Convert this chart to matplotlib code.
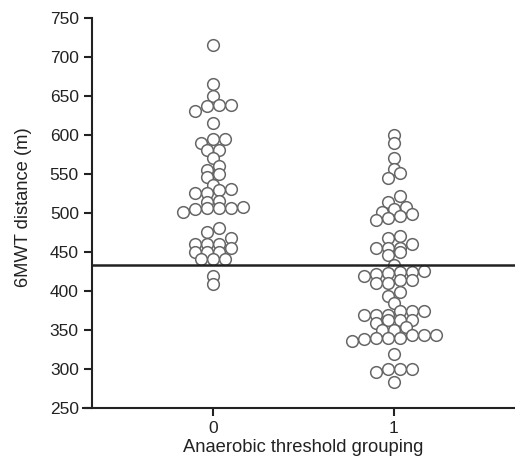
import numpy as np
import matplotlib
matplotlib.use("Agg")
import matplotlib.pyplot as plt

plt.rcParams['font.family'] = ['Liberation Sans', 'DejaVu Sans']

# ---- data ----
categories = [0, 1]
group0 = [716, 666, 650, 638, 638, 637, 631, 616, 595, 595, 590, 581, 581, 570,
          560, 555, 550, 546, 536, 531, 530, 526, 526, 516, 514, 508, 507, 507,
          507, 505, 501, 481, 476, 468, 460, 460, 460, 455, 450, 450, 450, 441,
          441, 441, 419, 409]
group1 = [600, 590, 570, 556, 551, 545, 522, 514, 508, 505, 501, 499, 496, 494,
          491, 470, 468, 460, 455, 455, 455, 450, 446, 433, 426, 424, 424, 423,
          422, 419, 414, 414, 410, 410, 399, 394, 385, 374, 374, 374, 369, 369,
          369, 363, 363, 363, 359, 354, 350, 350, 344, 344, 344, 340, 340, 340,
          338, 336, 319, 300, 300, 300, 296, 283]
threshold = 433
yticks = [250, 300, 350, 400, 450, 500, 550, 600, 650, 700, 750]
xlabel = "Anaerobic threshold grouping"
ylabel = "6MWT distance (m)"

W, H = 515, 461
fig = plt.figure(figsize=(W / 100, H / 100), dpi=100)
ax_l, ax_r, ax_t, ax_b = 83, 515, 18, 408
ax = fig.add_axes([ax_l / W, 1 - ax_b / H, (ax_r - ax_l) / W, (ax_b - ax_t) / H])

x_px0, x_px1 = 213, 394
px_per_x = x_px1 - x_px0
xmin = (ax_l - x_px0) / px_per_x
xmax = (ax_r - x_px0) / px_per_x
ax.set_xlim(xmin, xmax)
ax.set_ylim(250, 750)
yspine_x = (92 - x_px0) / px_per_x


def bin_offsets(vals, width=9.0, step=0.066):
    """Prism-like scatter: group nearby values (from the bottom up) in bins,
    spread each bin horizontally, lowest value on the left."""
    v = np.asarray(vals, dtype=float)
    order = np.argsort(v, kind='stable')
    offs = np.zeros(len(v))
    i = 0
    while i < len(order):
        start = v[order[i]]
        j = i
        while j < len(order) and v[order[j]] - start < width:
            j += 1
        idx = order[i:j]
        n = len(idx)
        for k, ii in enumerate(idx):
            offs[ii] = (k - (n - 1) / 2) * step
        i = j
    return offs


for cat, vals in zip(categories, [group0, group1]):
    offs = bin_offsets(vals)
    ax.plot(cat + offs, vals, linestyle='none', marker='o', markersize=8.4,
            markerfacecolor='white', markeredgecolor='#666666',
            markeredgewidth=1.1, zorder=3)

ax.plot([yspine_x, xmax], [threshold, threshold], color='#222222', lw=1.8,
        zorder=4, solid_capstyle='butt')

for s in ['top', 'right']:
    ax.spines[s].set_visible(False)
ax.spines['left'].set_position(('data', yspine_x))
ax.spines['left'].set_linewidth(1.5)
ax.spines['bottom'].set_linewidth(1.5)
ax.spines['left'].set_color('#222222')
ax.spines['bottom'].set_color('#222222')
ax.set_yticks(yticks)
ax.set_xticks(categories)
ax.set_xticklabels([str(c) for c in categories])
ax.tick_params(axis='both', length=6, width=1.5, color='#222222',
               labelsize=12.5, labelcolor='#222222', pad=3.5)
ax.patch.set_alpha(0)

fig.text(24 / W, 1 - 207 / H, ylabel, rotation=90, ha='center', va='center',
         fontsize=13.2, color='#222222')
fig.text(303 / W, 1 - 447 / H, xlabel, ha='center', va='center',
         fontsize=13.2, color='#222222')

fig.savefig('out.png', dpi=100)
